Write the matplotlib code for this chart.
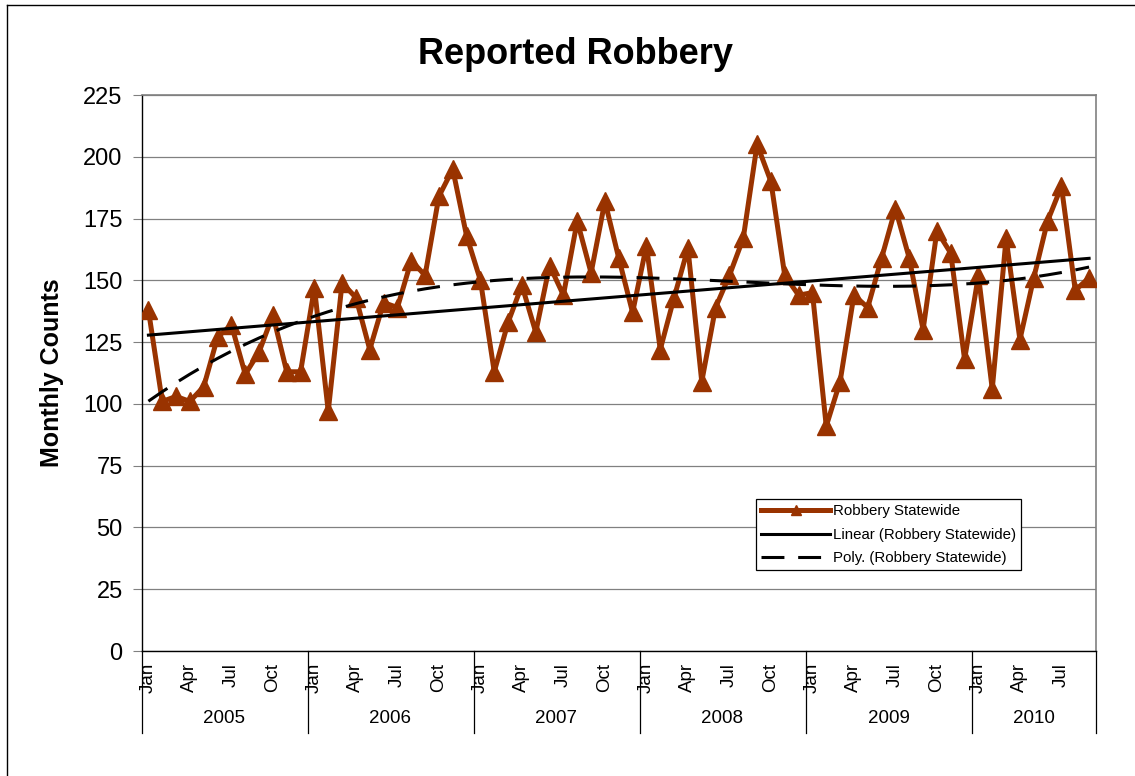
import numpy as np
import matplotlib
matplotlib.use("Agg")
import matplotlib.pyplot as plt
from matplotlib.lines import Line2D

plt.rcParams['font.family'] = ['Liberation Sans', 'DejaVu Sans']

# ============ data ============
years = ["2005", "2006", "2007", "2008", "2009", "2010"]
months_per_year = [12, 12, 12, 12, 12, 9]
month_labels = ["Jan", "Apr", "Jul", "Oct"]
month_label_idx = [0, 3, 6, 9]

robbery = [
    138, 101, 103, 101, 107, 127, 132, 112, 121, 136, 113, 113,   # 2005
    147, 97, 149, 143, 122, 141, 139, 158, 152, 184, 195, 168,    # 2006
    150, 113, 133, 148, 129, 156, 144, 174, 153, 182, 159, 137,   # 2007
    164, 122, 143, 163, 109, 139, 152, 167, 205, 190, 152, 144,   # 2008
    145, 91, 109, 144, 139, 159, 179, 159, 130, 170, 161, 118,    # 2009
    152, 106, 167, 126, 151, 174, 188, 146, 151,                  # 2010
]
y_ticks = [0, 25, 50, 75, 100, 125, 150, 175, 200, 225]
poly_order = 3
# ====================================================

n = len(robbery)
x = np.arange(n)
y = np.array(robbery, dtype=float)

# trendlines like Excel (x = 1..n)
xe = x + 1
lin = np.polynomial.Polynomial.fit(xe, y, 1)(xe)
poly = np.polynomial.Polynomial.fit(xe, y, poly_order)(xe)

W, H = 1135, 776
fig = plt.figure(figsize=(W / 100, H / 100), dpi=100)
ax = fig.add_axes([141.5 / W, 1 - 651 / H, 954.5 / W, 556 / H])

brown = "#993300"
grid_c = "#808080"

ax.plot(x, y, color=brown, lw=3.6, marker="^", ms=12.5,
        mfc=brown, mec=brown, label="Robbery Statewide", zorder=3)
ax.plot(x, lin, color="black", lw=2.2, label="Linear (Robbery Statewide)", zorder=4)
ax.plot(x, poly, color="black", lw=2.2, dashes=(7.5, 4.5),
        label="Poly. (Robbery Statewide)", zorder=4)

ax.set_xlim(-0.5, n - 0.5)
ax.set_ylim(0, 225)
ax.set_yticks(y_ticks)
ax.tick_params(axis="y", labelsize=17, length=6.5, width=0.8, color=grid_c, pad=7)
ax.set_xticks([])
ax.yaxis.grid(True, color=grid_c, lw=0.9)
ax.set_axisbelow(True)
for s in ["top", "right"]:
    ax.spines[s].set_color(grid_c)
    ax.spines[s].set_linewidth(1.2)
for s in ["left", "bottom"]:
    ax.spines[s].set_color("black")
    ax.spines[s].set_linewidth(1.0)

# multi-level category axis
tr = ax.get_xaxis_transform()
start = 0
bounds = [-0.5]
for yr, cnt in zip(years, months_per_year):
    for lab, mi in zip(month_labels, month_label_idx):
        if mi < cnt:
            ax.text(start + mi, -0.021, lab, transform=tr, rotation=90,
                    ha="center", va="top", fontsize=13.5)
    ax.text(start + (cnt - 1) / 2, -0.122, yr, transform=tr,
            ha="center", va="center", fontsize=13.5)
    start += cnt
    bounds.append(start - 0.5)
for b in bounds:
    ax.plot([b, b], [0, -0.1475], transform=tr, color="black", lw=0.9,
            clip_on=False)

fig.text(575 / W, 1 - 55 / H, "Reported Robbery", ha="center", va="center",
         fontsize=26, fontweight="bold")
fig.text(52 / W, 1 - 373 / H, "Monthly Counts", ha="center", va="center",
         rotation=90, fontsize=18, fontweight="bold")

leg = ax.legend(loc="upper left", bbox_to_anchor=(0.644, 0.273),
                borderaxespad=0, fancybox=False, framealpha=1,
                edgecolor="black", fontsize=10.8, handlelength=4.6,
                handletextpad=0.15, labelspacing=0.62, borderpad=0.35,
                numpoints=1, markerscale=0.6)
leg.get_frame().set_linewidth(0.9)
leg.set_zorder(10)

# outer chart border (top and left visible)
fig.add_artist(Line2D([7 / W, 7 / W], [0, 1 - 5 / H], color="black", lw=1.0,
                      transform=fig.transFigure))
fig.add_artist(Line2D([7 / W, 1], [1 - 5 / H, 1 - 5 / H], color="black", lw=1.0,
                      transform=fig.transFigure))

fig.savefig("out.png", dpi=100)
